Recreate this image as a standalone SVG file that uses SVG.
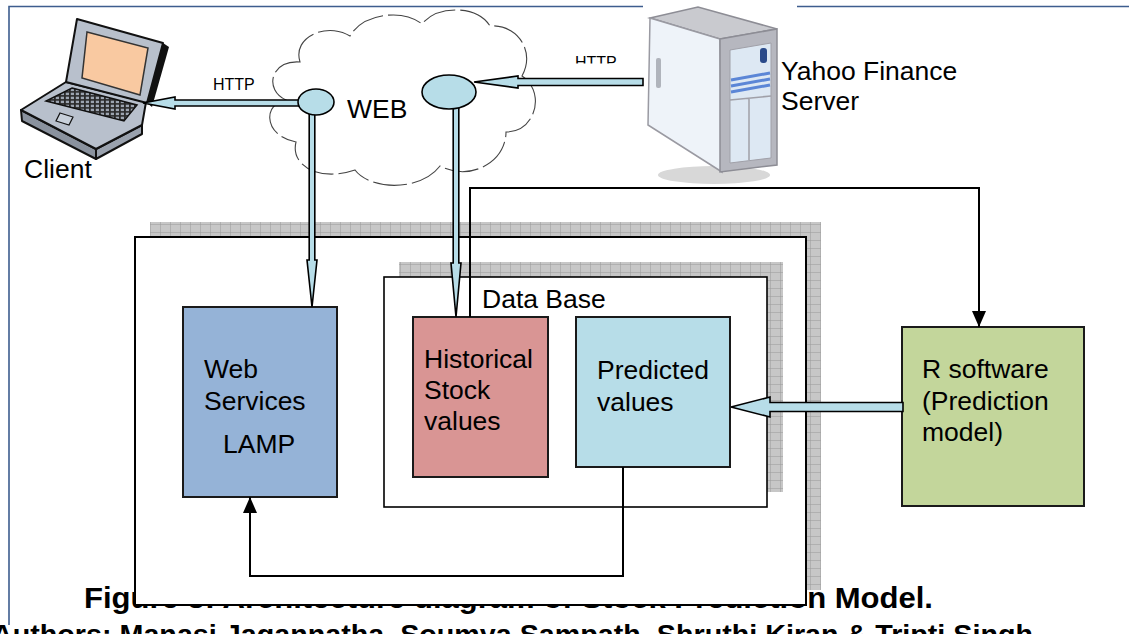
<svg xmlns="http://www.w3.org/2000/svg" width="1129" height="634" viewBox="0 0 1129 634">
<defs>
<style>
text{font-family:"Liberation Sans",Arial,sans-serif;fill:#000}
.lbl{font-size:26.5px}
.small{font-size:16px}
.cap{font-weight:bold}
.node{stroke:#1a1a1a;stroke-width:2}
.blk{fill:#b7dde8;stroke:#000;stroke-width:1.6;stroke-linejoin:miter}
.thin{fill:none;stroke:#000;stroke-width:2}
.frame{stroke:#3d5d8e;stroke-width:1.6;fill:none}
</style>
<pattern id="hatch" width="10" height="8" patternUnits="userSpaceOnUse">
<rect width="10" height="8" fill="#c7c7c7"/>
<path d="M0 0H10M0 0V8" stroke="#9a9a9a" stroke-width="1"/>
</pattern>
<pattern id="keys" width="5" height="4" patternUnits="userSpaceOnUse">
<rect width="5" height="4" fill="#2a2a2a"/>
<rect x="0.8" y="0.7" width="3.2" height="2.4" fill="#9ca4b0"/>
</pattern>
<clipPath id="httpclip"><rect x="560" y="40" width="80" height="23.5"/></clipPath>
<marker id="tri" viewBox="0 0 16 14" refX="16" refY="7" markerWidth="16" markerHeight="14" markerUnits="userSpaceOnUse" orient="auto">
<path d="M0 0L16 7L0 14Z" fill="#000"/>
</marker>
</defs>
<rect width="1129" height="634" fill="#fff"/>

<!-- caption (partly hidden behind the box) -->
<text class="cap" x="84" y="608" font-size="29" textLength="849" lengthAdjust="spacingAndGlyphs">Figure 3: Architecture diagram of Stock Prediction Model.</text>
<text class="cap" x="-8" y="644" font-size="28.5" textLength="1041" lengthAdjust="spacingAndGlyphs">Authors: Manasi Jagannatha, Soumya Sampath, Shruthi Kiran &amp; Tripti Singh</text>

<!-- frame -->
<path class="frame" d="M9 625V6.5H1129"/>

<!-- cloud -->
<g id="cloud">
<path d="M300 62C292 36 328 22 350 36C362 14 402 8 422 24C436 6 476 4 490 26C516 24 536 50 522 76C546 92 536 132 506 132C506 162 470 182 440 166C420 192 370 190 355 170C320 182 290 166 296 142C264 136 262 104 286 100C264 90 270 60 300 62Z" fill="#fff" stroke="#444" stroke-width="1.1" stroke-dasharray="34 5"/>
<text class="lbl" x="347" y="118">WEB</text>
</g>

<!-- server -->
<g id="server">
<rect x="643" y="0" width="154" height="188" fill="#fff"/>
<ellipse cx="714" cy="175" rx="56" ry="9" fill="#d8d8d8"/>
<polygon points="650,18 698,7 777,29 720,39" fill="#c9cacf" stroke="#8d8d95" stroke-width="1.5"/>
<polygon points="650,18 720,39 722,172 648,125" fill="#eef3f9" stroke="#9a9aa2" stroke-width="1.5"/>
<rect x="656" y="58" width="5" height="30" rx="2" fill="#b0b4bc"/>
<polygon points="720,39 777,29 777,165 720,172" fill="#b6b7bf" stroke="#8d8d95" stroke-width="1.5"/>
<polygon points="730,50 771,43 771,158 730,163" fill="#dde8f3" stroke="#a0a0a8"/>
<rect x="760" y="48" width="7" height="15" rx="3" fill="#2a4a8a"/>
<path d="M731 80L770 73M731 86L770 79M731 92L770 85" stroke="#5b86d6" stroke-width="3"/>
<path d="M730 100L771 96M749 98V160" stroke="#a0a0a8" stroke-width="1.5"/>
<text class="lbl" x="781" y="80">Yahoo Finance</text>
<text class="lbl" x="781" y="110">Server</text>
</g>

<!-- client laptop -->
<g id="client">
<polygon points="21,110 96,149 96,159 22,121" fill="#8a929e" stroke="#111" stroke-width="2" stroke-linejoin="round"/>
<polygon points="96,149 142,125 142,134 96,159" fill="#9aa2ae" stroke="#111" stroke-width="2" stroke-linejoin="round"/>
<polygon points="66,82 146,102 142,125 96,149 21,110" fill="#b8c0cc" stroke="#111" stroke-width="2" stroke-linejoin="round"/>
<polygon points="72,88 137,105 124,121 46,101" fill="url(#keys)" stroke="#111" stroke-width="1.5"/>
<polygon points="60,113 73,117 69,125 56,121" fill="#c8d0da" stroke="#111" stroke-width="1.2"/>
<polygon points="163,43 169,47 152,107 147,103" fill="#111"/>
<polygon points="77,19 163,43 147,103 66,82" fill="#b8c0cc" stroke="#111" stroke-width="2" stroke-linejoin="round"/>
<polygon points="87,32 148,48 140,95 82,78" fill="#f9c9a1" stroke="#333" stroke-width="1.5"/>
<text class="lbl" x="24" y="178">Client</text>
</g>

<!-- web server container with shadow -->
<g id="webserver">
<rect x="150" y="222" width="671" height="368" fill="url(#hatch)"/>
<rect x="135" y="237" width="671" height="368" fill="#fff" stroke="#000" stroke-width="2"/>
</g>

<!-- database container -->
<g id="database">
<rect x="399" y="262" width="384" height="230" fill="url(#hatch)"/>
<rect x="384" y="277" width="383" height="230" fill="#fff" stroke="#000" stroke-width="1.6"/>
<text class="lbl" x="482" y="308">Data Base</text>
</g>

<g id="webservices">
<rect class="node" x="183" y="307" width="154" height="190" fill="#95b3d7"/>
<text class="lbl" x="204" y="378">Web</text>
<text class="lbl" x="204" y="410">Services</text>
<text class="lbl" x="223" y="453">LAMP</text>
</g>

<g id="historical">
<rect class="node" x="413" y="317" width="135" height="160" fill="#d99594"/>
<text class="lbl" x="424" y="368">Historical</text>
<text class="lbl" x="424" y="399">Stock</text>
<text class="lbl" x="424" y="430">values</text>
</g>

<g id="predicted">
<rect class="node" x="576" y="317" width="154" height="150" fill="#b7dde8"/>
<text class="lbl" x="597" y="379">Predicted</text>
<text class="lbl" x="597" y="411">values</text>
</g>

<g id="rsoftware">
<rect class="node" x="902" y="327" width="182" height="179" fill="#c3d69b"/>
<text class="lbl" x="922" y="378">R software</text>
<text class="lbl" x="922" y="410">(Prediction</text>
<text class="lbl" x="922" y="441">model)</text>
</g>

<!-- connectors -->
<g id="connectors">
<polygon class="blk" points="143,103 175,97 175,100 305,100 305,106 175,106 175,109"/>
<text class="small" x="213" y="90">HTTP</text>
<polygon class="blk" points="474,82 518,76 518,78.5 643,78.5 643,85.5 518,85.5 518,88"/>
<text class="small" x="575" y="67.5" clip-path="url(#httpclip)">HTTP</text>
<polygon class="blk" points="309.2,112 314.8,112 314.8,260 317,260 312,307 307,260 309.2,260"/>
<polygon class="blk" points="453.2,106 458.8,106 458.8,263 461,263 456,317 451,263 453.2,263"/>
<polygon class="blk" points="731,407 770,397 770,402.5 903,402.5 903,411.5 770,411.5 770,417"/>
<path class="thin" d="M470 317V188H979V327" marker-end="url(#tri)"/>
<path class="thin" d="M623 467V576H250V497" marker-end="url(#tri)"/>
<ellipse cx="316" cy="102" rx="18" ry="13" fill="#b7dde8" stroke="#000" stroke-width="1.6"/>
<ellipse cx="449" cy="92" rx="27" ry="17" fill="#b7dde8" stroke="#000" stroke-width="1.6"/>
</g>
</svg>
